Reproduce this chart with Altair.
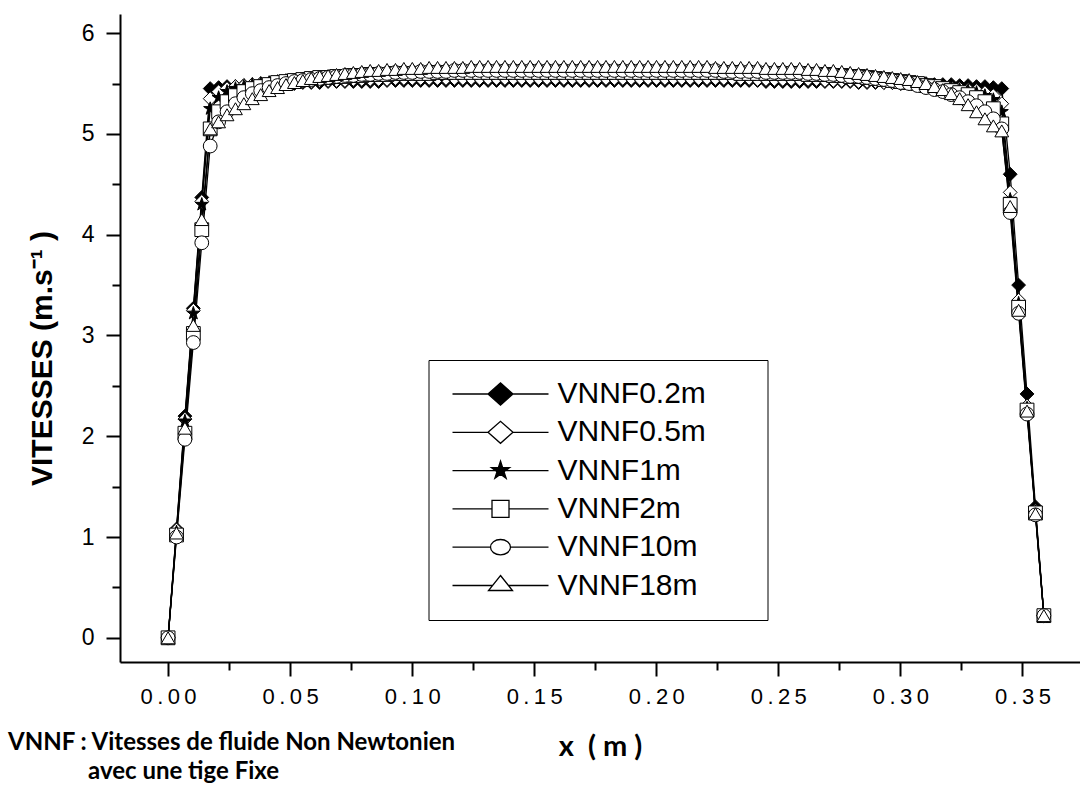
import altair as alt
import pandas as pd

SERIES = ["VNNF0.2m", "VNNF0.5m", "VNNF1m", "VNNF2m", "VNNF10m", "VNNF18m"]

X_M = [0.0, 0.00345, 0.0069, 0.01035, 0.0138, 0.01725, 0.0207, 0.02415, 0.0276, 0.03105,
       0.0345, 0.03795, 0.0414, 0.04485, 0.0483, 0.05175, 0.0552, 0.05865, 0.0621, 0.06555,
       0.069, 0.07245, 0.0759, 0.07935, 0.0828, 0.08625, 0.0897, 0.09315, 0.0966, 0.10005,
       0.1035, 0.10695, 0.1104, 0.11385, 0.1173, 0.12075, 0.1242, 0.12765, 0.1311, 0.13455,
       0.138, 0.14145, 0.1449, 0.14835, 0.1518, 0.15525, 0.1587, 0.16215, 0.1656, 0.16905,
       0.1725, 0.17595, 0.1794, 0.18285, 0.1863, 0.18975, 0.1932, 0.19665, 0.2001, 0.20355,
       0.207, 0.21045, 0.2139, 0.21735, 0.2208, 0.22425, 0.2277, 0.23115, 0.2346, 0.23805,
       0.2415, 0.24495, 0.2484, 0.25185, 0.2553, 0.25875, 0.2622, 0.26565, 0.2691, 0.27255,
       0.276, 0.27945, 0.2829, 0.28635, 0.2898, 0.29325, 0.2967, 0.30015, 0.3036, 0.30705,
       0.3105, 0.31395, 0.3174, 0.32085, 0.3243, 0.32775, 0.3312, 0.33465, 0.3381, 0.34155,
       0.345, 0.34845, 0.3519, 0.35535, 0.3588]

V_02 = [0.00, 1.08, 2.20, 3.27, 4.37, 5.45, 5.46, 5.47, 5.47, 5.48, 5.48, 5.49, 5.49, 5.50, 5.50,
        5.50, 5.51, 5.51, 5.51, 5.52, 5.52, 5.52, 5.52, 5.52, 5.52, 5.52, 5.53, 5.53, 5.53, 5.53,
        5.53, 5.53, 5.53, 5.53, 5.53, 5.53, 5.53, 5.53, 5.53, 5.53, 5.53, 5.53, 5.53, 5.53, 5.53,
        5.53, 5.53, 5.53, 5.53, 5.53, 5.53, 5.53, 5.53, 5.53, 5.53, 5.53, 5.53, 5.53, 5.53, 5.53,
        5.53, 5.53, 5.53, 5.53, 5.53, 5.53, 5.53, 5.53, 5.53, 5.53, 5.53, 5.52, 5.52, 5.52, 5.52,
        5.52, 5.52, 5.52, 5.52, 5.52, 5.52, 5.52, 5.51, 5.51, 5.51, 5.51, 5.51, 5.50, 5.50, 5.50,
        5.50, 5.49, 5.49, 5.49, 5.48, 5.48, 5.47, 5.47, 5.46, 5.45, 4.60, 3.50, 2.42, 1.30, 0.22]

V_05 = [0.00, 1.07, 2.17, 3.25, 4.33, 5.35, 5.42, 5.45, 5.47, 5.48, 5.49, 5.50, 5.50, 5.51, 5.51,
        5.52, 5.52, 5.52, 5.53, 5.53, 5.53, 5.53, 5.54, 5.54, 5.54, 5.54, 5.54, 5.55, 5.55, 5.55,
        5.55, 5.55, 5.55, 5.55, 5.55, 5.55, 5.55, 5.55, 5.55, 5.55, 5.55, 5.55, 5.55, 5.55, 5.55,
        5.55, 5.55, 5.55, 5.55, 5.55, 5.55, 5.55, 5.55, 5.55, 5.55, 5.55, 5.55, 5.55, 5.55, 5.55,
        5.55, 5.55, 5.55, 5.55, 5.55, 5.55, 5.55, 5.55, 5.55, 5.55, 5.54, 5.54, 5.54, 5.54, 5.54,
        5.54, 5.54, 5.54, 5.53, 5.53, 5.53, 5.53, 5.52, 5.52, 5.52, 5.51, 5.51, 5.50, 5.50, 5.49,
        5.49, 5.48, 5.47, 5.46, 5.45, 5.44, 5.43, 5.41, 5.38, 5.30, 4.42, 3.35, 2.30, 1.26, 0.22]

V_1 = [0.00, 1.05, 2.15, 3.22, 4.30, 5.25, 5.36, 5.42, 5.45, 5.47, 5.49, 5.50, 5.51, 5.52, 5.53,
       5.53, 5.54, 5.54, 5.55, 5.55, 5.56, 5.56, 5.56, 5.57, 5.57, 5.57, 5.57, 5.58, 5.58, 5.58,
       5.58, 5.58, 5.58, 5.58, 5.59, 5.59, 5.59, 5.59, 5.59, 5.59, 5.59, 5.59, 5.59, 5.59, 5.59,
       5.59, 5.59, 5.59, 5.59, 5.59, 5.59, 5.59, 5.59, 5.59, 5.59, 5.59, 5.59, 5.59, 5.59, 5.59,
       5.59, 5.59, 5.59, 5.59, 5.59, 5.59, 5.59, 5.59, 5.58, 5.58, 5.58, 5.58, 5.58, 5.58, 5.58,
       5.58, 5.57, 5.57, 5.57, 5.56, 5.56, 5.56, 5.55, 5.55, 5.54, 5.54, 5.53, 5.52, 5.51, 5.50,
       5.49, 5.48, 5.47, 5.46, 5.44, 5.43, 5.41, 5.38, 5.34, 5.22, 4.35, 3.32, 2.28, 1.25, 0.22]

V_2 = [0.00, 1.02, 2.03, 3.02, 4.05, 5.05, 5.22, 5.32, 5.38, 5.42, 5.45, 5.47, 5.49, 5.51, 5.52,
       5.53, 5.54, 5.55, 5.56, 5.56, 5.57, 5.57, 5.58, 5.58, 5.59, 5.59, 5.59, 5.60, 5.60, 5.60,
       5.60, 5.60, 5.61, 5.61, 5.61, 5.61, 5.61, 5.61, 5.61, 5.61, 5.61, 5.61, 5.61, 5.61, 5.61,
       5.61, 5.61, 5.61, 5.61, 5.61, 5.61, 5.61, 5.61, 5.61, 5.61, 5.61, 5.61, 5.61, 5.61, 5.61,
       5.61, 5.61, 5.61, 5.61, 5.61, 5.61, 5.61, 5.61, 5.60, 5.60, 5.60, 5.60, 5.60, 5.60, 5.60,
       5.60, 5.59, 5.59, 5.59, 5.58, 5.58, 5.57, 5.57, 5.56, 5.55, 5.54, 5.53, 5.52, 5.51, 5.50,
       5.48, 5.47, 5.45, 5.43, 5.41, 5.39, 5.36, 5.32, 5.25, 5.10, 4.30, 3.28, 2.26, 1.24, 0.22]

V_10 = [0.00, 1.00, 1.97, 2.93, 3.92, 4.88, 5.12, 5.22, 5.30, 5.36, 5.40, 5.43, 5.46, 5.48, 5.50,
        5.52, 5.53, 5.54, 5.55, 5.56, 5.57, 5.58, 5.58, 5.59, 5.59, 5.60, 5.60, 5.61, 5.61, 5.61,
        5.62, 5.62, 5.62, 5.62, 5.63, 5.63, 5.63, 5.63, 5.63, 5.63, 5.63, 5.63, 5.63, 5.63, 5.63,
        5.63, 5.63, 5.63, 5.63, 5.63, 5.63, 5.63, 5.63, 5.63, 5.63, 5.63, 5.63, 5.63, 5.63, 5.63,
        5.63, 5.63, 5.63, 5.63, 5.63, 5.63, 5.62, 5.62, 5.62, 5.62, 5.62, 5.61, 5.61, 5.61, 5.61,
        5.61, 5.60, 5.60, 5.59, 5.59, 5.58, 5.57, 5.57, 5.56, 5.55, 5.54, 5.53, 5.51, 5.50, 5.48,
        5.46, 5.44, 5.42, 5.39, 5.36, 5.32, 5.28, 5.22, 5.15, 5.05, 4.22, 3.22, 2.22, 1.22, 0.22]

V_18 = [0.00, 1.04, 2.08, 3.10, 4.15, 5.05, 5.12, 5.19, 5.25, 5.30, 5.35, 5.39, 5.43, 5.46, 5.49,
        5.51, 5.53, 5.55, 5.57, 5.58, 5.59, 5.60, 5.61, 5.62, 5.63, 5.63, 5.64, 5.64, 5.65, 5.65,
        5.65, 5.66, 5.66, 5.66, 5.66, 5.66, 5.67, 5.67, 5.67, 5.67, 5.67, 5.67, 5.67, 5.67, 5.67,
        5.67, 5.67, 5.67, 5.67, 5.67, 5.67, 5.67, 5.67, 5.67, 5.67, 5.67, 5.67, 5.67, 5.67, 5.67,
        5.67, 5.67, 5.67, 5.67, 5.67, 5.66, 5.66, 5.66, 5.66, 5.66, 5.66, 5.65, 5.65, 5.65, 5.65,
        5.65, 5.64, 5.64, 5.63, 5.63, 5.62, 5.61, 5.60, 5.59, 5.58, 5.57, 5.56, 5.55, 5.54, 5.52,
        5.50, 5.47, 5.44, 5.40, 5.35, 5.29, 5.22, 5.15, 5.08, 5.03, 4.28, 3.25, 2.25, 1.23, 0.22]

X_TICKS = [0.0, 0.025, 0.05, 0.075, 0.1, 0.125, 0.15, 0.175, 0.2, 0.225, 0.25, 0.275, 0.3, 0.325, 0.35]
Y_TICKS = [0, 0.5, 1, 1.5, 2, 2.5, 3, 3.5, 4, 4.5, 5, 5.5, 6]

NOTE_1 = "VNNF : Vitesses de fluide Non Newtonien"
NOTE_2 = "avec une tige Fixe"

# marker shapes for the plot
STAR = ("M0,-1L0.2245,-0.309L0.951,-0.309L0.363,0.118L0.588,0.809L0,0.382"
        "L-0.588,0.809L-0.363,0.118L-0.951,-0.309L-0.2245,-0.309Z")
PLOT_SHAPES = ["diamond", "diamond", STAR, "square", "circle", "triangle-up"]
FILLS = ["black", "white", "black", "white", "white", "white"]
STROKES = ["black", "black", "black", "black", "black", "black"]

# legend symbols: a line with the marker in its middle
LEG_SHAPES = [
    "M-1,0L-0.26,0M0.26,0L1,0M-0.26,0L0,-0.23L0.26,0L0,0.23Z",
    "M-1,0L-0.26,0M0.26,0L1,0M-0.26,0L0,-0.23L0.26,0L0,0.23Z",
    "M-1,0L-0.075,0M0.075,0L1,0M0,-0.2L0.0449,-0.0618L0.1902,-0.0618L0.0726,0.0236L0.1176,0.1618"
    "L0,0.0764L-0.1176,0.1618L-0.0726,0.0236L-0.1902,-0.0618L-0.0449,-0.0618Z",
    "M-1,0L-0.177,0M0.177,0L1,0M-0.177,-0.177L0.177,-0.177L0.177,0.177L-0.177,0.177Z",
    "M-1,0L-0.208,0M0.208,0L1,0M0.208,0A0.208,0.16,0,1,1,-0.208,0A0.208,0.16,0,1,1,0.208,0Z",
    "M-1,0L-0.167,0M0.167,0L1,0M0,-0.208L0.25,0.104L-0.25,0.104Z",
]

rows = []
for name, vals in zip(SERIES, [V_02, V_05, V_1, V_2, V_10, V_18]):
    for xv, vv in zip(X_M, vals):
        rows.append({"x": xv, "v": vv, "serie": name})
df = pd.DataFrame(rows)

X_MAJOR = "abs(datum.value * 20 - round(datum.value * 20)) < 0.001"
Y_MAJOR = "abs(datum.value - round(datum.value)) < 0.001"

x_enc = alt.X(
    "x:Q",
    scale=alt.Scale(domain=[-0.0197, 0.3736], nice=False, zero=False),
    axis=alt.Axis(
        values=X_TICKS,
        title="x\u00a0\u00a0(\u00a0m\u00a0)",
        titleFont="Lato",
        titleFontSize=29,
        titleFontWeight="bold",
        titleColor="black",
        titleX=480,
        titleY=84,
        titleBaseline="middle",
        labelExpr=X_MAJOR + " ? join(split(format(datum.value, '.2f'), ''), '\u2009') : ''",
        labelFont="Liberation Sans",
        labelFontSize=22,
        labelColor="black",
        labelPadding=10,
        labelOverlap=False,
        labelFlush=False,
        grid=False,
        domainColor="black",
        domainWidth=2,
        tickColor="black",
        tickWidth=2,
        tickSize={"condition": {"test": X_MAJOR, "value": 14}, "value": 8},
    ),
)

y_enc = alt.Y(
    "v:Q",
    scale=alt.Scale(domain=[-0.24, 6.19], nice=False, zero=False),
    axis=alt.Axis(
        values=Y_TICKS,
        title="VITESSES (m.s\u207b\u00b9 )",
        titleFont="Liberation Sans",
        titleFontSize=30,
        titleFontWeight="bold",
        titleColor="black",
        titleX=-78,
        titleY=344,
        titleAngle=270,
        titleBaseline="middle",
        labelExpr=Y_MAJOR + " ? format(datum.value, 'd') : ''",
        labelFont="Liberation Sans",
        labelFontSize=23,
        labelColor="black",
        labelPadding=12,
        labelOverlap=False,
        labelFlush=False,
        grid=False,
        domainColor="black",
        domainWidth=2,
        tickColor="black",
        tickWidth=2,
        tickSize={"condition": {"test": Y_MAJOR, "value": 14}, "value": 8},
    ),
)

base = alt.Chart(df)

lines = base.mark_line(color="black", strokeWidth=1.3).encode(
    x=x_enc, y=y_enc, detail="serie:N"
)

points = base.mark_point(filled=True, stroke="black", strokeWidth=1, size=190, opacity=1).encode(
    x="x:Q",
    y="v:Q",
    shape=alt.Shape("serie:N", scale=alt.Scale(domain=SERIES, range=PLOT_SHAPES), legend=None),
    fill=alt.Fill("serie:N", scale=alt.Scale(domain=SERIES, range=FILLS), legend=None),
)

leg = alt.Legend(
    title=None,
    orient="none",
    legendX=308.5,
    legendY=346,
    padding=19,
    strokeColor="black",
    fillColor="white",
    labelFont="Liberation Sans",
    labelFontSize=30,
    labelColor="black",
    labelOffset=8,
    labelLimit=400,
    labelExpr="datum.label + '\u00a0\u00a0\u00a0\u00a0\u00a0\u200b'",
    symbolOffset=4,
    symbolSize=9216,
    symbolOpacity=1,
    symbolStrokeWidth=1.3,
    clipHeight=30,
    rowPadding=8.3,
    columns=1,
)

legend_layer = base.transform_filter("false").mark_point(
    filled=True, strokeWidth=1.3, size=9216, opacity=1
).encode(
    x="x:Q",
    y="v:Q",
    shape=alt.Shape("serie:N", scale=alt.Scale(domain=SERIES, range=LEG_SHAPES), legend=leg),
    fill=alt.Fill("serie:N", scale=alt.Scale(domain=SERIES, range=FILLS), legend=leg),
    stroke=alt.Stroke("serie:N", scale=alt.Scale(domain=SERIES, range=STROKES), legend=leg),
)

note1 = alt.Chart(pd.DataFrame({"t": [NOTE_1]})).mark_text(
    align="left", baseline="alphabetic", font="Lato", fontSize=24, fontWeight="bold", color="black"
).encode(text="t:N", x=alt.value(-112), y=alt.value(736))

note2 = alt.Chart(pd.DataFrame({"t": [NOTE_2]})).mark_text(
    align="left", baseline="alphabetic", font="Lato", fontSize=24, fontWeight="bold", color="black"
).encode(text="t:N", x=alt.value(-32), y=alt.value(765))

chart = (
    alt.layer(lines, points, legend_layer, note1, note2)
    .resolve_scale(shape="independent", fill="independent", stroke="independent")
    .properties(
        width=960,
        height=648,
        autosize=alt.AutoSizeParams(type="none"),
        padding={"left": 120, "top": 14, "right": 0, "bottom": 123},
        background="white",
    )
    .configure_view(strokeWidth=0)
)

chart.save("out.html", embed_options={"renderer": "svg", "actions": False})
